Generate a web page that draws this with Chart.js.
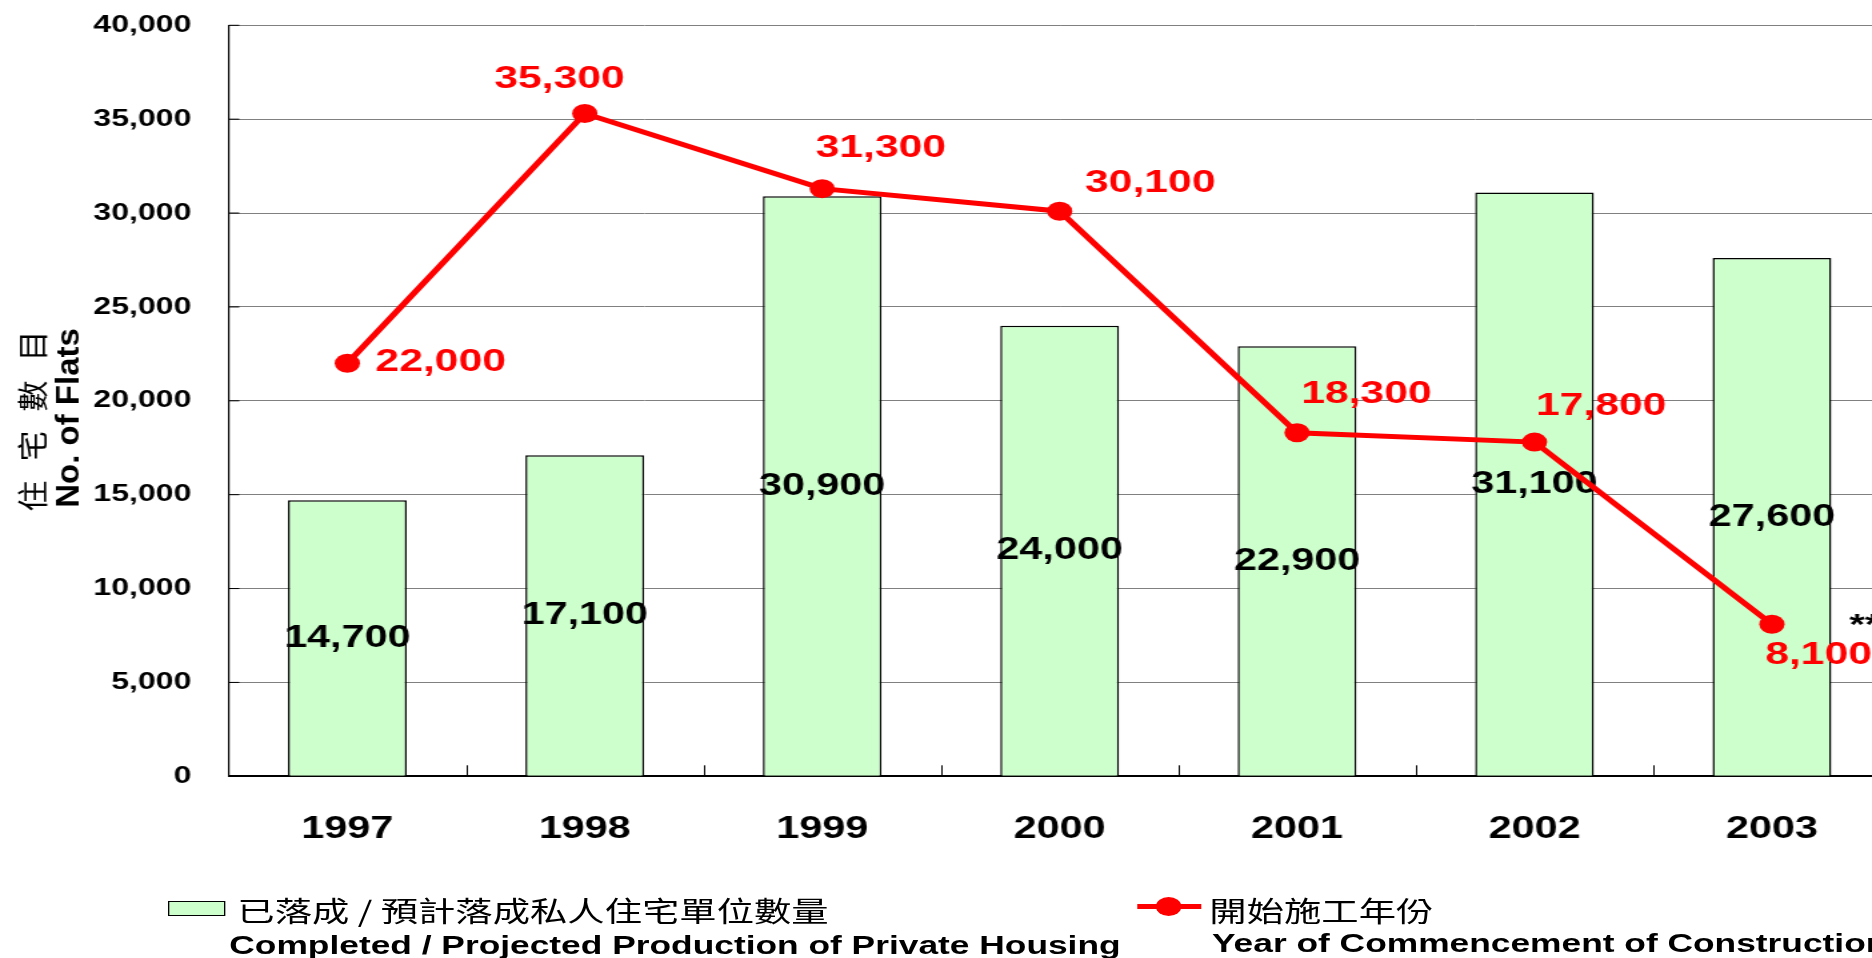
<!DOCTYPE html>
<html>
<head>
<meta charset="utf-8">
<script src="https://cdn.jsdelivr.net/npm/chart.js@4/dist/chart.umd.min.js"></script>
<style>
  html, body { margin: 0; padding: 0; overflow: hidden; background: #fff; }
  /* the reference is a horizontally stretched picture, so the whole stage is stretched too */
  #stage { position: relative; width: 1440px; height: 958px; transform: scaleX(1.3333); transform-origin: 0 0; }
  #chart { position: absolute; left: 0; top: 0; }
  .lg { position: absolute; white-space: nowrap; color: #000; }
  .zh { font-family: "Noto Sans CJK TC", sans-serif; font-size: 28px; line-height: 30px; }
  .en { font-family: "Liberation Sans", Arial, sans-serif; font-weight: bold; font-size: 26.5px; line-height: 30px; }
  .box { position: absolute; background: #ccffcc; border: 1.5px solid #000; box-sizing: border-box; }
  .seg { position: absolute; background: #ff0000; height: 5px; }
  .dot { position: absolute; background: #ff0000; width: 19px; height: 19px; border-radius: 50%; }
</style>
</head>
<body>
<div id="stage">
  <canvas id="chart" width="1440" height="958"></canvas>

  <div class="box" style="left:126px; top:901px; width:43px; height:15px;"></div>
  <div class="lg zh" style="left:178px; top:895px;">已落成 / 預計落成私人住宅單位數量</div>
  <div class="lg en" style="left:172px; top:929.5px;">Completed / Projected Production of Private Housing</div>

  <div class="seg" style="left:853px; top:904px; width:48px;"></div>
  <div class="dot" style="left:867px; top:897px;"></div>
  <div class="lg zh" style="left:907px; top:895px;">開始施工年份</div>
  <div class="lg en" style="left:909px; top:928px;">Year of Commencement of Construction</div>
</div>

<script>
const years = ['1997', '1998', '1999', '2000', '2001', '2002', '2003']
const completed = [14700, 17100, 30900, 24000, 22900, 31100, 27600]
const commenced = [22000, 35300, 31300, 30100, 18300, 17800, 8100]
const yTicks = [0, 5000, 10000, 15000, 20000, 25000, 30000, 35000, 40000]

// where each red label sits relative to its point
const lineLabelOffsets = [[70, -1], [-19, -34], [44, -40], [68, -28], [52, -39], [50, -36], [35, 31]]

const fmt = v => v.toLocaleString('en-US')
const FONT = '"Liberation Sans", Arial, sans-serif'

const tickStubs = {
    id: 'tickStubs',
    beforeDatasetsDraw(chart) {
        const { ctx, chartArea: a, scales: { x, y } } = chart
        ctx.save()
        ctx.strokeStyle = '#000'
        ctx.lineWidth = 1
        const half = (x.getPixelForValue(1) - x.getPixelForValue(0)) / 2
        for (let i = 0; i < years.length - 1; i++) {
            const px = Math.round(x.getPixelForValue(i) + half) + 0.5
            ctx.beginPath()
            ctx.moveTo(px, a.bottom)
            ctx.lineTo(px, a.bottom - 11)
            ctx.stroke()
        }
        yTicks.forEach(v => {
            const py = y.getPixelForValue(v)
            ctx.beginPath()
            ctx.moveTo(a.left, py)
            ctx.lineTo(a.left + 8, py)
            ctx.stroke()
        })
        ctx.restore()
    }
}

const valueLabels = {
    id: 'valueLabels',
    afterDatasetDraw(chart, args) {
        if (args.index !== 0) return
        const { ctx } = chart
        ctx.save()
        ctx.textAlign = 'center'
        ctx.textBaseline = 'middle'
        ctx.font = `bold 31px ${FONT}`
        ctx.fillStyle = '#000'
        chart.getDatasetMeta(0).data.forEach((bar, i) => {
            ctx.fillText(fmt(completed[i]), bar.x, (bar.y + bar.base) / 2)
        })
        ctx.restore()
    },
    afterDatasetsDraw(chart) {
        const { ctx } = chart
        const pts = chart.getDatasetMeta(1).data
        ctx.save()
        ctx.textAlign = 'center'
        ctx.textBaseline = 'middle'
        ctx.font = `bold 32px ${FONT}`
        ctx.fillStyle = '#ff0000'
        pts.forEach((pt, i) => {
            const [dx, dy] = lineLabelOffsets[i]
            ctx.fillText(fmt(commenced[i]), pt.x + dx, pt.y + dy)
        })
        // footnote marker next to the last point
        const last = pts[pts.length - 1]
        ctx.textAlign = 'left'
        ctx.fillStyle = '#000'
        ctx.font = `bold 30px ${FONT}`
        ctx.fillText('**', last.x + 58, last.y + 2)
        ctx.restore()
    }
}

const axisTitles = {
    id: 'axisTitles',
    afterDraw(chart) {
        const { ctx } = chart
        ctx.save()
        ctx.fillStyle = '#000'
        ctx.textAlign = 'center'
        ctx.textBaseline = 'middle'
        // titles are not stretched in the reference, so undo the stage stretch
        ctx.save()
        ctx.translate(24, 421)
        ctx.scale(0.75, 1)
        ctx.rotate(-Math.PI / 2)
        ctx.font = '31px "Noto Sans CJK TC", sans-serif'
        ctx.letterSpacing = '6px'
        ctx.fillText('住 宅 數 目', 3, 0)
        ctx.restore()

        ctx.translate(52.5, 418)
        ctx.scale(0.75, 1)
        ctx.rotate(-Math.PI / 2)
        ctx.font = `bold 33px ${FONT}`
        ctx.fillText('No. of Flats', 0, 0)
        ctx.restore()
    }
}

Chart.defaults.font.family = FONT
Chart.defaults.color = '#000'

new Chart(document.getElementById('chart'), {
    type: 'bar',
    data: {
        labels: years,
        datasets: [
            {
                type: 'bar',
                label: '已落成 / 預計落成私人住宅單位數量 Completed / Projected Production of Private Housing',
                data: completed,
                backgroundColor: '#ccffcc',
                borderColor: '#000000',
                borderWidth: 1.5,
                barPercentage: 0.5,
                categoryPercentage: 1,
                order: 2
            },
            {
                type: 'line',
                label: '開始施工年份 Year of Commencement of Construction',
                data: commenced,
                borderColor: '#ff0000',
                backgroundColor: '#ff0000',
                borderWidth: 5,
                pointRadius: 9.5,
                pointBackgroundColor: '#ff0000',
                pointBorderWidth: 0,
                tension: 0,
                order: 1
            }
        ]
    },
    options: {
        responsive: false,
        animation: false,
        layout: { padding: { top: 25.3, right: 22, bottom: 81.7, left: 0 } },
        plugins: {
            legend: { display: false },
            tooltip: { enabled: false }
        },
        scales: {
            x: {
                offset: true,
                grid: { display: false },
                border: { color: '#000', width: 2 },
                ticks: {
                    padding: 27,
                    font: { size: 31, weight: 'bold' }
                },
                afterFit: scale => {
                    scale.height = 100
                    scale.paddingLeft = 0
                    scale.paddingRight = 0
                }
            },
            y: {
                min: 0,
                max: 40000,
                afterBuildTicks: scale => { scale.ticks = yTicks.map(v => ({ value: v })) },
                grid: { color: '#808080', lineWidth: 1, drawTicks: false },
                border: { color: '#000', width: 1.2 },
                ticks: {
                    padding: 28,
                    font: { size: 24, weight: 'bold' },
                    callback: v => fmt(v)
                },
                afterFit: scale => {
                    scale.width = 171.5
                    scale.paddingTop = 0
                    scale.paddingBottom = 0
                }
            }
        }
    },
    plugins: [tickStubs, valueLabels, axisTitles]
})
</script>
</body>
</html>
